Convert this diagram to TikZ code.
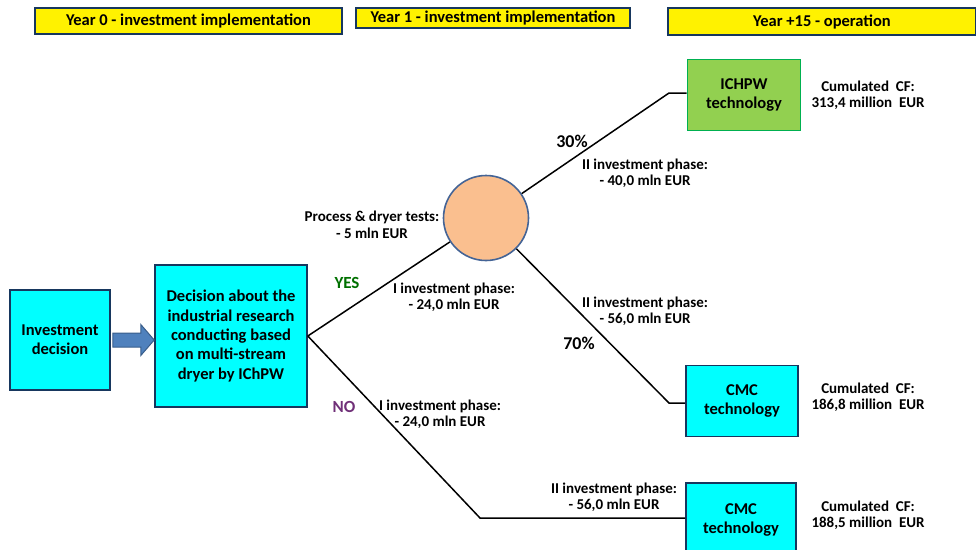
\documentclass[tikz,border=0pt]{standalone}
\usepackage{fontspec}
\setmainfont{Carlito}
\usetikzlibrary{calc}
\definecolor{navyline}{RGB}{23,55,94}
\definecolor{boxcyan}{RGB}{0,255,255}
\definecolor{boxgreen}{RGB}{146,208,80}
\definecolor{greenline}{RGB}{0,176,80}
\definecolor{peach}{RGB}{250,191,143}
\definecolor{circleline}{RGB}{68,100,150}
\definecolor{arrowblue}{RGB}{79,129,189}
\definecolor{arrowline}{RGB}{56,93,138}
\definecolor{yesgreen}{RGB}{0,112,0}
\definecolor{nopurple}{RGB}{112,48,120}
\tikzstyle{yearbox}=[draw=navyline,fill=yellow,line width=1.6pt,inner sep=0pt,
                     font=\bfseries\fontsize{16.5}{18}\selectfont]
\tikzstyle{cyanbox}=[draw=navyline,fill=boxcyan,line width=1.6pt,inner sep=0pt,
                     align=center,font=\bfseries\fontsize{16.5}{19.3}\selectfont]
\tikzstyle{greenbox}=[draw=greenline,fill=boxgreen,line width=1.6pt,inner sep=0pt,
                      align=center,font=\bfseries\fontsize{16.5}{19.3}\selectfont]
\tikzstyle{chance}=[circle,draw=circleline,fill=peach,line width=1.6pt,
                    inner sep=0pt,minimum size=85pt]
\tikzstyle{info}=[align=center,inner sep=0pt,font=\bfseries\fontsize{15}{16.5}\selectfont]
\tikzstyle{bigword}=[inner sep=0pt,font=\bfseries\fontsize{17}{19}\selectfont]
\tikzstyle{branch}=[black,line width=1.5pt]
\tikzstyle{pusharrow}=[draw=arrowline,fill=arrowblue,line width=1pt,line join=miter]
\newcommand{\wsp}{\hspace{0.45em}}

\begin{document}
\begin{tikzpicture}[x=1pt,y=-1pt]
    \useasboundingbox (0,0) rectangle (976,549);
    % time line
    \node (y0) at (188.5,21) [yearbox,minimum width=307pt,minimum height=26pt]
          {Year 0 - investment implementation};
    \node (y1) at (493,18) [yearbox,minimum width=274pt,minimum height=20pt]
          {Year 1 - investment implementation};
    \node (y15) at (822,21.5) [yearbox,minimum width=308pt,minimum height=27pt]
          {Year +15 - operation};
    % decisions
    \node (inv) at (60,340) [cyanbox,minimum width=100pt,minimum height=100pt]
          {Investment\\decision};
    \node (dec) at (231,336) [cyanbox,minimum width=152pt,minimum height=142pt]
          {Decision about the\\industrial research\\conducting based\\on multi-stream\\dryer by IChPW};
    \draw[pusharrow] ($(inv.east)+(2,-7)$) -- ($(inv.east)+(30,-7)$)
          -- ($(inv.east)+(30,-15.5)$) -- (dec.west |- inv.east)
          -- ($(inv.east)+(30,15.5)$) -- ($(inv.east)+(30,7)$)
          -- ($(inv.east)+(2,7)$) -- cycle;
    \node (test) at (486,218) [chance]{};
    % outcomes
    \node (ichpw) at (744,95) [greenbox,minimum width=113pt,minimum height=71pt]
          {ICHPW\\technology};
    \node (cmca) at (742,401) [cyanbox,minimum width=112pt,minimum height=71pt]
          {CMC\\technology};
    \node (cmcb) at (741,520) [cyanbox,minimum width=110pt,minimum height=74pt]
          {CMC\\technology};
    \coordinate (upk) at (669,93);
    \coordinate (midk) at (669,403);
    \coordinate (lowk) at (480,518);
    \draw[branch] (dec.east) -- (test);
    \draw[branch] (test) -- (upk) -- (ichpw.west |- upk);
    \draw[branch] (test) -- (midk) -- (cmca.west |- midk);
    \draw[branch] (dec.east) -- (lowk) -- (cmcb.west |- lowk);
    % labels
    \node (lt) at (372,225) [info]{Process \& dryer tests:\\- 5 mln EUR};
    \node (lyes) at (347,283) [bigword,text=yesgreen]{YES};
    \node (lia) at (454,297) [info]{I investment phase:\\- 24,0 mln EUR};
    \node (l30) at (572,141) [bigword,font=\bfseries\fontsize{18}{20}\selectfont]{30\%};
    \node (liia) at (645,173) [info]{II investment phase:\\- 40,0 mln EUR};
    \node (liib) at (645,311) [info]{II investment phase:\\- 56,0 mln EUR};
    \node (l70) at (579,343) [bigword,font=\bfseries\fontsize{18}{20}\selectfont]{70\%};
    \node (lno) at (344,407) [bigword,text=nopurple]{NO};
    \node (lib) at (440,414) [info]{I investment phase:\\- 24,0 mln EUR};
    \node (liic) at (614,497) [info]{II investment phase:\\- 56,0 mln EUR};
    \node (cfa) at (868,95) [info]{Cumulated\wsp CF:\\313,4 million\wsp EUR};
    \node (cfb) at (868,397) [info]{Cumulated\wsp CF:\\186,8 million\wsp EUR};
    \node (cfc) at (868,515) [info]{Cumulated\wsp CF:\\188,5 million\wsp EUR};
\end{tikzpicture}
\end{document}
